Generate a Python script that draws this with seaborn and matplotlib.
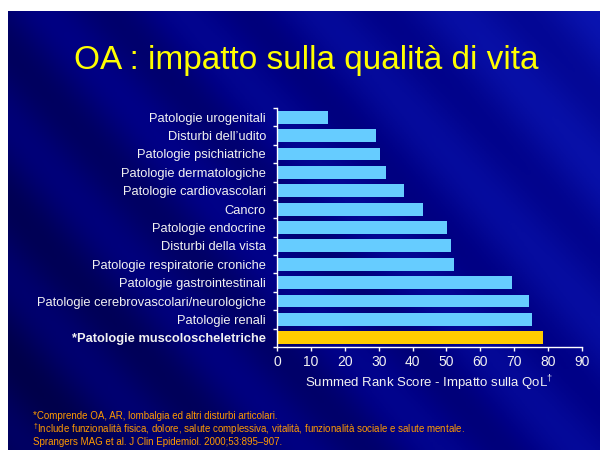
import numpy as np
import pandas as pd
import matplotlib
matplotlib.use("Agg")
import matplotlib.pyplot as plt
import seaborn as sns
from matplotlib.colors import LinearSegmentedColormap

categories = [
    "Patologie urogenitali",
    "Disturbi dell\u2019udito",
    "Patologie psichiatriche",
    "Patologie dermatologiche",
    "Patologie cardiovascolari",
    "Cancro",
    "Patologie endocrine",
    "Disturbi della vista",
    "Patologie respiratorie croniche",
    "Patologie gastrointestinali",
    "Patologie cerebrovascolari/neurologiche",
    "Patologie renali",
    "*Patologie muscoloscheletriche",
]
scores = [15.0, 29.1, 30.3, 32.1, 37.4, 43.0, 50.1, 51.3, 52.2, 69.3, 74.3, 75.2, 78.4]
x_ticks = [0, 10, 20, 30, 40, 50, 60, 70, 80, 90]

title = "OA : impatto sulla qualit\u00e0 di vita"
xlabel = "Summed Rank Score - Impatto sulla QoL$^{\\dagger}$"
footnotes = [
    "*Comprende OA, AR, lombalgia ed altri disturbi articolari.",
    "$^{\\dagger}$Include funzionalit\u00e0 fisica, dolore, salute complessiva, vitalit\u00e0, funzionalit\u00e0 sociale e salute mentale.",
    "Sprangers MAG et al. J Clin Epidemiol. 2000;53:895\u2013907.",
]

sns.set_theme(style="white")
plt.rcParams["font.family"] = ["Liberation Sans", "DejaVu Sans"]
plt.rcParams["mathtext.fontset"] = "custom"
plt.rcParams["mathtext.rm"] = "Liberation Sans"

fig = plt.figure(figsize=(6, 4.5), dpi=100, facecolor="white")

# background slide gradient
bg = fig.add_axes([8 / 600, 0, 1 - 8 / 600, 1 - 11 / 450])
yy, xx = np.mgrid[0:1:200j, 0:1:260j]
grad = 0.35 + 0.27 * xx + 0.12 * (1 - yy) + 0.06 * np.sin((xx * 3 - yy * 2) * 9)
grad = np.clip(grad, 0, 1)
cmap = LinearSegmentedColormap.from_list("slide", ["#00004A", "#000085", "#0A14B0"])
bg.imshow(grad, cmap=cmap, aspect="auto", extent=[0, 1, 0, 1], origin="upper")
bg.set_axis_off()

ax = fig.add_axes([277 / 600, 1 - 347 / 450, (582 - 277) / 600, (347 - 108) / 450])
ax.set_facecolor("none")
df = pd.DataFrame({"cat": categories, "score": scores})
colors = ["#66CCFF"] * (len(categories) - 1) + ["#FFCC00"]
sns.barplot(data=df, x="score", y="cat", hue="cat", palette=colors, legend=False,
            width=0.7, ax=ax, saturation=1, linewidth=0)

ax.set_xlim(0, 90)
ax.set_ylim(len(categories) - 0.5, -0.5)
ax.set_xticks(x_ticks)
ax.set_xticklabels([str(t) for t in x_ticks], color="#F2F2F2", fontsize=10)
ax.set_yticks(range(len(categories)))
ax.set_yticklabels(categories, color="#F2F2F2", fontsize=9.3)
ax.get_yticklabels()[-1].set_fontweight("bold")
ax.tick_params(axis="y", which="major", length=0, pad=8)
ax.set_yticks(np.arange(-0.5, len(categories), 1.0), minor=True)
ax.tick_params(axis="y", which="minor", length=3, color="white", width=1, left=True)
ax.tick_params(axis="x", which="major", length=3, color="white", width=1, bottom=True, pad=3)
ax.set_xlabel(xlabel, color="#F2F2F2", fontsize=9.5, labelpad=3)
ax.set_ylabel("")
for s in ["top", "right"]:
    ax.spines[s].set_visible(False)
for s in ["left", "bottom"]:
    ax.spines[s].set_visible(True)
    ax.spines[s].set_color("white")
    ax.spines[s].set_linewidth(1)

fig.text(306 / 600, 1 - 60 / 450, title, color="#FFFF00", fontsize=24,
         ha="center", va="center")
for i, line in enumerate(footnotes):
    fig.text(33 / 600, 1 - (416 + 13 * i) / 450, line, color="#FF9900", fontsize=7.0,
             ha="left", va="center")

fig.savefig("out.png", dpi=100, facecolor="white")
